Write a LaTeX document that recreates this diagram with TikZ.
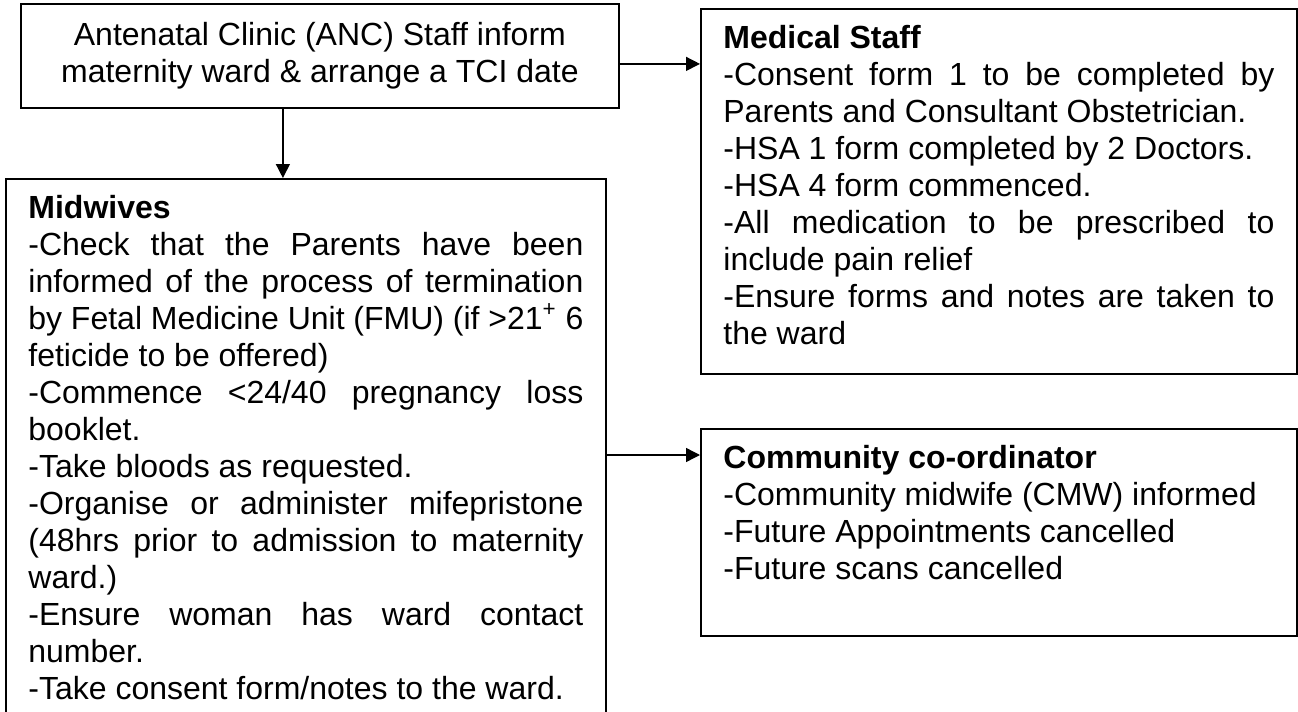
\documentclass[tikz,border=0pt]{standalone}
\usepackage{fontspec}
\setmainfont{Liberation Sans}
\usetikzlibrary{arrows.meta,positioning}
\hyphenpenalty=10000 \exhyphenpenalty=10000
\tolerance=10000 \hbadness=10000
% justified list text, top aligned in a box of fixed height
\newcommand{\listtext}[3]{\parbox[c][#1][t]{#2}{#3}}

\begin{document}
\begin{tikzpicture}[
  font=\fontsize{16}{18.5}\selectfont, >={Triangle[length=7pt,width=7pt]},
  box/.style={draw,line width=0.9pt,inner xsep=11.25pt,inner ysep=8pt,anchor=north west},
  head/.style={box,align=center,minimum width=299pt,minimum height=52pt},
  flow/.style={->,line width=0.7pt}]
\useasboundingbox (0,0) rectangle (649pt,-356pt);
\clip (0,0) rectangle (649pt,-356pt);
\node[head] (anc) at (10pt,-1.5pt) {Antenatal Clinic (ANC) Staff inform\\maternity ward \& arrange a TCI date};
\node[box] (med) at (350pt,-4pt) {\listtext{166.5pt}{275.5pt}{%
\textbf{Medical Staff}\\
-Consent form 1 to be completed by\linebreak Parents and Consultant Obstetrician.\\
-HSA 1 form completed by 2 Doctors.\\
-HSA 4 form commenced.\\
-All medication to be prescribed to\linebreak include pain relief\\
-Ensure forms and notes are taken to\linebreak the ward}};
\node[box] (midw) at (2.5pt,-89pt) {\listtext{274pt}{277.5pt}{%
\textbf{Midwives}\\
-Check that the Parents have been\linebreak informed of the process of termination\linebreak
by Fetal Medicine Unit (FMU) (if >21\textsuperscript{+} 6\linebreak feticide to be offered)\\
-Commence <24/40 pregnancy loss\linebreak booklet.\\
-Take bloods as requested.\\
-Organise or administer mifepristone\linebreak (48hrs prior to admission to maternity\linebreak ward.)\\
-Ensure woman has ward contact\linebreak number.\\
-Take consent form/notes to the ward.}};
\node[box] (comm) at (350pt,-214pt) {\listtext{87.5pt}{275.5pt}{%
\textbf{Community co-ordinator}\\
-Community midwife (CMW) informed\\
-Future Appointments cancelled\\
-Future scans cancelled}};
\draw[flow] ([xshift=-18.5pt]anc.south) -- ([xshift=-18.5pt]anc.south |- midw.north);
\draw[flow] ([yshift=-4pt]anc.east) -- ([yshift=-4pt]anc.east -| med.west);
\draw[flow] ([yshift=-13.5pt]comm.north west -| midw.east) -- ([yshift=-13.5pt]comm.north west);
\end{tikzpicture}
\end{document}
